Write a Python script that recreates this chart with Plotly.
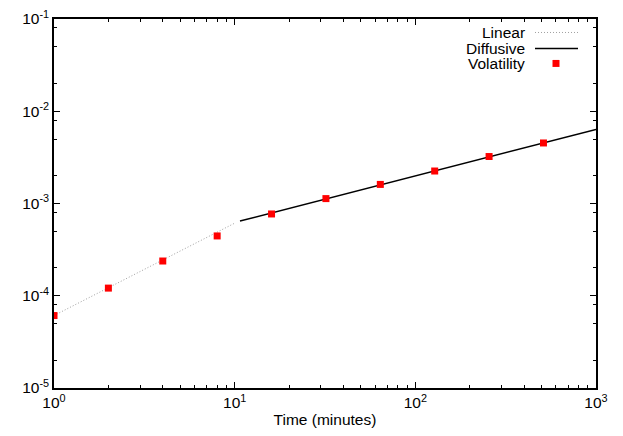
import plotly.graph_objects as go

# Volatility measured at doubling time windows (minutes)
time_min = [1, 2, 4, 8, 16, 32, 64, 128, 256, 512]
volatility = [6.1e-5, 1.21e-4, 2.38e-4, 4.45e-4, 7.7e-4, 1.13e-3, 1.61e-3, 2.25e-3, 3.23e-3, 4.53e-3]

# fitted regimes (end points)
linear_x = [1, 10.05]
linear_y = [6.1e-5, 6.15e-4]
diffusive_x = [10.7, 1000]
diffusive_y = [6.45e-4, 6.35e-3]

x_major = [1, 10, 100, 1000]
x_labels = ['10<sup>0</sup>', '10<sup>1</sup>', '10<sup>2</sup>', '10<sup>3</sup>']
y_major = [1e-5, 1e-4, 1e-3, 1e-2, 1e-1]
y_labels = ['10<sup>-5</sup>', '10<sup>-4</sup>', '10<sup>-3</sup>', '10<sup>-2</sup>', '10<sup>-1</sup>']

x_minor = [m * 10 ** d for d in range(3) for m in range(2, 10)]
y_minor = [m * 10.0 ** d for d in range(-5, -1) for m in (2, 5, 8)]

font = dict(family='Liberation Sans, Arial, sans-serif', size=15.5, color='black')

fig = go.Figure()
fig.add_trace(go.Scatter(x=linear_x, y=linear_y, mode='lines', name='Linear',
                         line=dict(color='#a0a0a0', width=1, dash='1px,2px'), showlegend=False))
fig.add_trace(go.Scatter(x=diffusive_x, y=diffusive_y, mode='lines', name='Diffusive',
                         line=dict(color='black', width=1.5), showlegend=False))
fig.add_trace(go.Scatter(x=time_min, y=volatility, mode='markers', name='Volatility',
                         marker=dict(color='#ff0000', symbol='square', size=7), showlegend=False))

axis_common = dict(type='log', showgrid=False, zeroline=False, showline=True,
                   linecolor='black', linewidth=1.5, mirror='ticks', automargin=False,
                   ticks='inside', ticklen=6, tickwidth=1, tickcolor='black',
                   tickfont=font, ticklabeloverflow='allow')

fig.update_xaxes(range=[0, 3], tickvals=x_major, ticktext=x_labels,
                 minor=dict(tickvals=x_minor, ticks='inside', ticklen=3, tickcolor='black'),
                 title=dict(text='Time (minutes)', font=font, standoff=4),
                 **axis_common)
fig.update_yaxes(range=[-5, -1], tickvals=y_major, ticktext=y_labels,
                 minor=dict(tickvals=y_minor, ticks='inside', ticklen=3, tickcolor='black'),
                 **axis_common)

# page has an 8px body margin, so the figure is shifted by it
OFF = 8
W, H = 623 - OFF, 436 - OFF
L, R, T, B = 54, 27, 18.5, 48          # plot box in page pixels
pw, ph = 623 - L - R, 436 - T - B


def px(x):
    return (x - L) / pw


def py(y):
    return 1 - (y - T) / ph


# gnuplot style key: text on the left, sample on the right
key_rows = [('Linear', 32), ('Diffusive', 48), ('Volatility', 63)]
for text, yy in key_rows:
    fig.add_annotation(x=px(526), y=py(yy), xref='paper', yref='paper', text=text,
                       showarrow=False, xanchor='right', yanchor='middle', font=font,
                       borderpad=0)
fig.add_shape(type='line', xref='paper', yref='paper', x0=px(535), x1=px(578),
              y0=py(32), y1=py(32), line=dict(color='#a0a0a0', width=1, dash='1px,2px'))
fig.add_shape(type='line', xref='paper', yref='paper', x0=px(535), x1=px(578),
              y0=py(48), y1=py(48), line=dict(color='black', width=1.5))
fig.add_shape(type='rect', xref='paper', yref='paper', x0=px(552.5), x1=px(559.5),
              y0=py(59.5), y1=py(66.5), line=dict(width=0), fillcolor='#ff0000')

fig.update_layout(width=W, height=H,
                  margin=dict(l=L - OFF, r=R, t=T - OFF, b=B),
                  plot_bgcolor='white', paper_bgcolor='white', font=font)

fig.write_html("out.html")
